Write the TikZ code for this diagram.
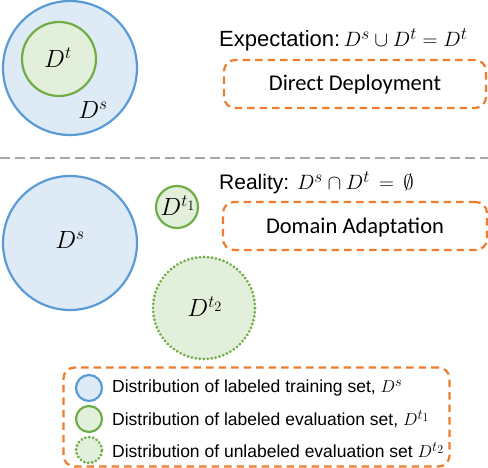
\documentclass[tikz,border=0pt]{standalone}
\usepackage{fontspec}
\setsansfont{Liberation Sans}
\newfontfamily\carlito{Carlito}
\DeclareMathSizes{17.5}{19}{15}{12}
\DeclareMathSizes{21}{22.5}{17.5}{13}
\DeclareMathSizes{22}{22.5}{17.5}{13}
\DeclareMathSizes{23}{23}{18}{14}
\definecolor{cblue}{HTML}{5B9BD5}
\definecolor{cbluefill}{HTML}{DEEBF7}
\definecolor{cgreen}{HTML}{70AD47}
\definecolor{cgreenfill}{HTML}{E2EFDA}
\definecolor{corange}{HTML}{ED7D31}
\definecolor{cgray}{HTML}{A6A6A6}
\begin{document}
\begin{tikzpicture}[x=1pt,y=-1pt,
  bluec/.style={circle,draw=cblue,fill=cbluefill,line width=2.2pt,inner sep=0pt},
  greenc/.style={circle,draw=cgreen,fill=cgreenfill,line width=2.2pt,inner sep=0pt},
  dotc/.style={circle,draw=cgreen,fill=cgreenfill,line width=3pt,inner sep=0pt,dash pattern=on 0.1pt off 3.9pt,line cap=round},
  obox/.style={rectangle,draw=corange,line width=2.2pt,dash pattern=on 7.5pt off 5pt,rounded corners=11pt,inner sep=0pt},
  mlab/.style={font=\fontsize{23}{27}\selectfont,inner sep=0pt},
  title/.style={font=\sffamily\fontsize{22}{26}\selectfont,inner sep=0pt,anchor=base west},
  titleb/.style={font=\sffamily\fontsize{21}{25}\selectfont,inner sep=0pt,anchor=base west},
  boxtxt/.style={font=\carlito\fontsize{22.5}{26}\selectfont},
  legtxt/.style={font=\sffamily\fontsize{17.5}{21}\selectfont,inner sep=0pt,anchor=west},
  legc/.style={minimum size=26pt}]
\useasboundingbox (0,0) rectangle (488,468);
% top part
\node[bluec,minimum size=134pt] (S1) at (70,68) {};
\node[greenc,minimum size=74pt] (T1) at (59,59) {};
\node[mlab] (T1lab) at (58,58) {$D^t$};
\node[mlab] (S1lab) at (93,110) {$D^s$};
\node[title] (exp) at (219,47) {Expectation:\,$D^s\cup D^t = D^t$};
\node[obox,minimum width=262pt,minimum height=48pt] (dd) at (355,84) {};
\node[boxtxt] (ddt) at (355,85) {Direct Deployment};
% separator
\coordinate (gl) at (0,158);
\coordinate (gr) at (488,158);
\draw[cgray,line width=2pt,dash pattern=on 10pt off 5pt] (gl) -- (gr);
% bottom part
\node[titleb] (real) at (219,190) {Reality: $D^s\cap D^t \,=\, \emptyset$};
\node[obox,minimum width=264pt,minimum height=48pt] (da) at (355,226) {};
\node[boxtxt] (dat) at (355,228) {Domain Adaptation};
\node[bluec,minimum size=134pt] (S2) at (70,243) {};
\node[mlab] (S2lab) at (70,240) {$D^s$};
\node[greenc,minimum size=42pt] (T2) at (177,207) {};
\node[mlab] (T2lab) at (178,206) {$D^{t_1}$};
\node[dotc,minimum size=102pt] (T3) at (204,308) {};
\node[mlab] (T3lab) at (205,307) {$D^{t_2}$};
% legend
\node[obox,minimum width=386pt,minimum height=99pt] (leg) at (256.5,417) {};
\node[bluec,legc] (L1) at (89,388) {};
\node[greenc,legc] (L2) at (89,419) {};
\node[dotc,legc] (L3) at (89,450) {};
\node[legtxt] (L1t) at (112,388) {Distribution of labeled training set, $D^s$};
\node[legtxt] (L2t) at (112,419) {Distribution of labeled evaluation set, $D^{t_1}$};
\node[legtxt] (L3t) at (112,450) {Distribution of unlabeled evaluation set $D^{t_2}$};
\end{tikzpicture}
\end{document}
